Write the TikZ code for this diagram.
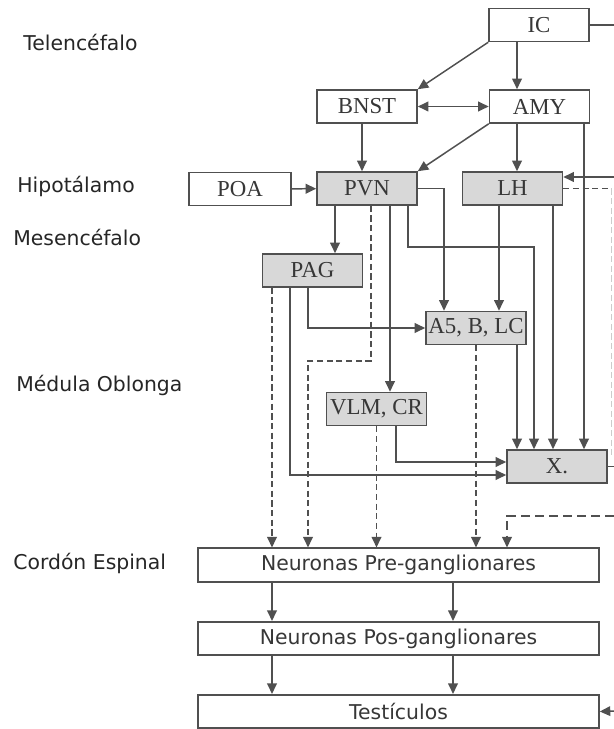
\documentclass[tikz,border=0pt]{standalone}
\usepackage{fontspec}
\setmainfont{Liberation Serif}
\newfontfamily\lblfont{DejaVu Sans}
\usetikzlibrary{arrows.meta,calc}
\definecolor{linegray}{RGB}{80,80,80}
\definecolor{boxgray}{RGB}{216,216,216}
\definecolor{txtgray}{RGB}{55,55,55}
\begin{document}
\begin{tikzpicture}
[
x=0.02cm, y=-0.02cm,
>={Triangle[length=6pt,width=5.5pt]},
ln/.style={draw=linegray, line width=0.85pt},
region/.style={anchor=west, inner sep=0pt, font=\lblfont\fontsize{11.6}{13}\selectfont, text=black!85},
box/.style={rectangle, draw=linegray, line width=0.9pt, fill=white, minimum width=2cm, minimum height=0.66cm, inner sep=0pt, font=\fontsize{13}{15}\selectfont, text=txtgray},
gbox/.style={box, fill=boxgray},
wide/.style={box, minimum width=8.02cm, minimum height=0.67cm, font=\lblfont\fontsize{11.6}{13}\selectfont},
dsh/.style={ln, dashed, dash pattern=on 3.5pt off 2pt}
]
\useasboundingbox (0,0) rectangle (614,729);

%Regions
\node[region] (tel) at (23,42)  {Telencéfalo};
\node[region] (hip) at (17,186) {Hipotálamo};
\node[region] (mes) at (13,237) {Mesencéfalo};
\node[region] (med) at (16,385) {Médula Oblonga};
\node[region] (cor) at (13,563) {Cordón Espinal};

%Nodes
\node[box]  (IC)   at (539,25)    {IC};
\node[box]  (BNST) at (367,106.5) {BNST};
\node[box]  (AMY)  at (539.5,106.5) {AMY};
\node[box, minimum width=2.04cm] (POA) at (240,189) {POA};
\node[gbox] (PVN)  at (367,188.5) {PVN};
\node[gbox] (LH)   at (512.5,188.5) {LH};
\node[gbox] (PAG)  at (312.5,270.5) {PAG};
\node[gbox] (A5)   at (476,328)   {A5, B, LC};
\node[gbox] (VLM)  at (376.5,409) {VLM, CR};
\node[gbox] (X)    at (557,466.5) {X.};
\node[wide] (pre)  at (398.5,565) {Neuronas Pre-ganglionares};
\node[wide] (pos)  at (398.5,638.5) {Neuronas Pos-ganglionares};
\node[wide] (tes)  at (398.5,711.5) {Testículos};

%edge of the cut
\coordinate (edge) at (614,0);
\coordinate (inLH) at (614,177);
\coordinate (inPre) at (614,516);
\coordinate (inTes) at (614,711);

%Lines
\draw[ln,->] (IC.south west) -- (BNST.north east);
\draw[ln,->] ($(IC.south)+(-22,0)$) coordinate (a1) -- (a1 |- AMY.north);
\draw[ln,<->] (BNST) -- (AMY);
\draw[ln] (IC.east) -- (IC.east -| edge);
\draw[ln,->] ($(BNST.south)+(-5,0)$) coordinate (a2) -- (a2 |- PVN.north);
\draw[ln,->] (AMY.south west) -- (PVN.north east);
\draw[ln,->] ($(AMY.south)+(-22.5,0)$) coordinate (a3) -- (a3 |- LH.north);
\draw[ln,->] ($(AMY.south)+(44.5,0)$) coordinate (a4) -- (a4 |- X.north);
\draw[ln,->] (POA) -- (PVN);
\draw[ln,->] (inLH) -- (inLH -| LH.east);
\draw[dsh] (LH.east) -- ($(LH.east -| edge)+(-3,0)$);
\draw[dsh, draw=black!20, line width=0.5pt] ($(LH.east -| edge)+(-3,0)$) -- ++(0,266);
\draw[ln,->] ($(LH.south)+(40.5,0)$) coordinate (a5) -- (a5 |- X.north);
\draw[ln,->] ($(LH.south)+(-13.5,0)$) coordinate (a6) -- (a6 |- A5.north);
\draw[ln,->] (PVN.east) -| ($(A5.north)+(-32,0)$);
\draw[ln,->] ($(PVN.south)+(41,0)$) -- ++(0,41) -| ($(X.north)+(-23,0)$);
\draw[ln,->] ($(PVN.south)+(-32,0)$) coordinate (a7) -- (a7 |- PAG.north);
\draw[ln,->] ($(PVN.south)+(23,0)$) coordinate (a8) -- (a8 |- VLM.north);
\draw[dsh,->] ($(PVN.south)+(4,0)$) -- ++(0,155) -| ($(pre.north)+(-90.5,0)$);
\draw[dsh,->] ($(PAG.south)+(-40.5,0)$) coordinate (a9) -- (a9 |- pre.north);
\draw[ln,->] ($(PAG.south)+(-22.5,0)$) |- ($(X.west)+(0,8.5)$);
\draw[ln,->] ($(PAG.south)+(-4.5,0)$) |- (A5.west);
\draw[ln,->] ($(A5.south)+(41,0)$) coordinate (a10) -- (a10 |- X.north);
\draw[dsh,->] (A5.south) -- (A5.south |- pre.north);
\draw[dsh,->] (VLM.south) -- (VLM.south |- pre.north);
\draw[ln,->] ($(VLM.south)+(19.5,0)$) |- ($(X.west)+(0,-4.5)$);
\draw[ln] (X.east) -- (X.east -| edge);
\draw[dsh,->, dash pattern=on 5pt off 3pt] (inPre) -| ($(pre.north)+(108.5,0)$);
\draw[ln,->] ($(pre.south)+(-126.5,0)$) coordinate (b1) -- (b1 |- pos.north);
\draw[ln,->] ($(pre.south)+(54.5,0)$) coordinate (b2) -- (b2 |- pos.north);
\draw[ln,->] ($(pos.south)+(-126.5,0)$) coordinate (b3) -- (b3 |- tes.north);
\draw[ln,->] ($(pos.south)+(54.5,0)$) coordinate (b4) -- (b4 |- tes.north);
\draw[ln,->] (inTes) -- (tes.east);
\end{tikzpicture}
\end{document}
